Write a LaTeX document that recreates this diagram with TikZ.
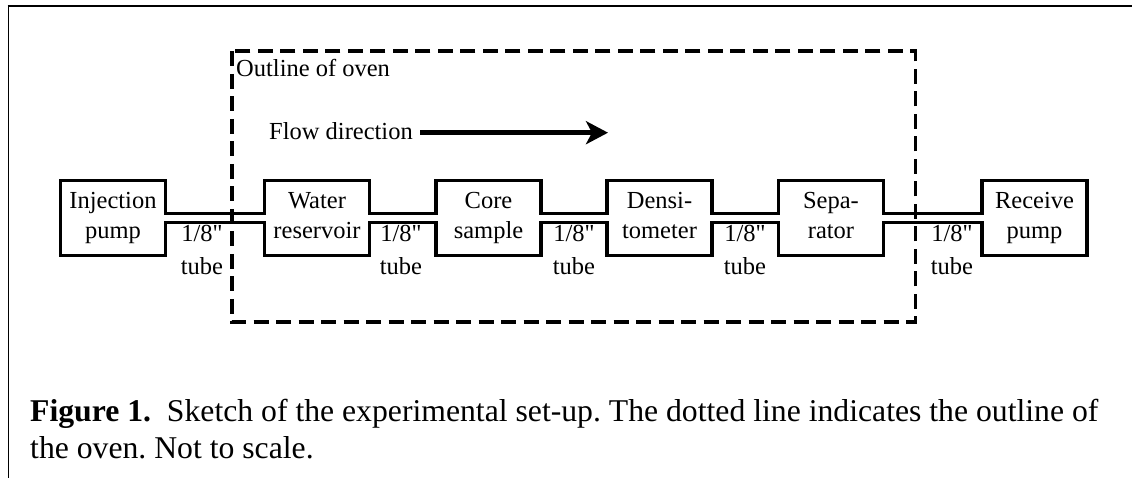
\documentclass[tikz,border=0pt]{standalone}
\usepackage{fontspec}
\setmainfont{Liberation Serif}
\usetikzlibrary{arrows.meta,calc}
\frenchspacing
\begin{document}
\begin{tikzpicture}[x=1pt,y=-1pt,
  unit/.style={draw, line width=3.3pt, minimum width=105pt, minimum height=75pt,
    inner sep=0pt, outer sep=0pt, align=center, font=\fontsize{24.5}{30}\selectfont},
  tubelbl/.style={inner sep=0pt, align=center, font=\fontsize{24.5}{33}\selectfont},
  plain/.style={inner sep=0pt, anchor=base west, font=\fontsize{24.5}{30}\selectfont},
  captxt/.style={inner sep=0pt, anchor=base west, font=\fontsize{31.7}{37}\selectfont},
  wall/.style={line width=3.3pt},
  oven/.style={line width=3.6pt, dash pattern=on 15pt off 7.5pt},
  flow/.style={line width=5.5pt, -{Stealth[length=22pt,width=23pt,inset=6pt]}}]
\useasboundingbox (0,0) rectangle (1132,478);
% frame
\draw[line width=1.5pt] (8.3,5) -- (8.3,478);
\draw[line width=2pt] (7.5,5.7) -- (1132,5.7);
% units
\node[unit] (inj)  at (113,218)   {\strut Injection\\pump\strut};
\node[unit] (wat)  at (317,218)   {\strut Water\\reservoir\strut};
\node[unit] (core) at (488.5,218) {\strut Core\\sample\strut};
\node[unit] (dens) at (659.5,218) {\strut Densi-\\tometer\strut};
\node[unit] (sep)  at (831,218)   {\strut Sepa-\\rator\strut};
\node[unit] (rec)  at (1034.5,218){\strut Receive\\pump\strut};
% tubes
\foreach \a/\b in {inj/wat, wat/core, core/dens, dens/sep, sep/rec}{
  \fill[white] ($(\a.east)+(-2.2,-2.7)$) rectangle ($(\b.west)+(2.2,2.7)$);
  \draw[wall] ($(\a.east)+(0,-4.3)$) -- ($(\b.west)+(0,-4.3)$);
  \draw[wall] ($(\a.east)+(0,4.3)$) -- ($(\b.west)+(0,4.3)$);
}
% tube labels
\node[tubelbl] (t1) at (202,251.4) {\strut 1/8\textquotedbl\\tube\strut};
\node[tubelbl] (t2) at (401,251.4) {\strut 1/8\textquotedbl\\tube\strut};
\node[tubelbl] (t3) at (574,251.4) {\strut 1/8\textquotedbl\\tube\strut};
\node[tubelbl] (t4) at (745,251.4) {\strut 1/8\textquotedbl\\tube\strut};
\node[tubelbl] (t5) at (952,251.4) {\strut 1/8\textquotedbl\\tube\strut};
% oven outline
\draw[oven] (231.7,51.3) rectangle (915.3,322);
\node[plain] (ovenlbl) at (236,77) {Outline of oven};
\node[plain] (flowlbl) at (269,140) {Flow direction};
\coordinate (fa) at (420,132.7);
\coordinate (fb) at (608,132.7);
\draw[flow] (fa) -- (fb);
% caption
\node[captxt] (cap1) at (30,421) {\textbf{Figure 1.}\hspace{0.5em}Sketch of the experimental set-up. The dotted line indicates the outline of};
\node[captxt] (cap2) at (30,458) {the oven. Not to scale.};
\end{tikzpicture}
\end{document}
